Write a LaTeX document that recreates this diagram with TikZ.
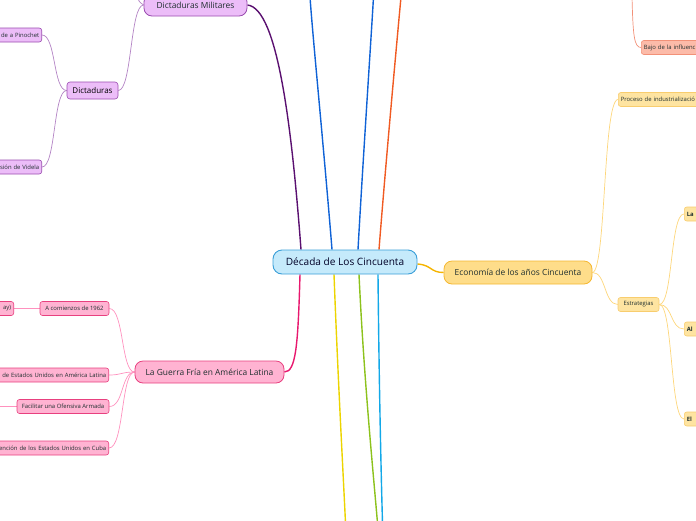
\documentclass[tikz,border=0pt]{standalone}
\usepackage{fontspec}
\setmainfont{Open Sans}
\usetikzlibrary{calc}
\pgfdeclarelayer{bg}
\pgfsetlayers{bg,main}
\definecolor{cfill}{HTML}{C5EAFB}\definecolor{cdraw}{HTML}{3A9FD8}
\definecolor{pfill}{HTML}{ECBDF8}\definecolor{pdraw}{HTML}{9A4CB0}\definecolor{pline}{HTML}{5A1070}\definecolor{psub}{HTML}{B383C4}
\definecolor{kfill}{HTML}{FFB3D2}\definecolor{kdraw}{HTML}{E8407F}\definecolor{kline}{HTML}{E8186E}\definecolor{ksub}{HTML}{FF91BE}
\definecolor{yfill}{HTML}{FEDD8A}\definecolor{ydraw}{HTML}{F5B730}\definecolor{yline}{HTML}{F5B400}\definecolor{ysub}{HTML}{FDD67A}
\definecolor{sfill}{HTML}{FCBBA9}\definecolor{sdraw}{HTML}{F29178}
\definecolor{blueline}{HTML}{0F62D6}\definecolor{orline}{HTML}{F05A22}
\definecolor{yeline}{HTML}{ECD400}\definecolor{grline}{HTML}{8CC21C}\definecolor{lbline}{HTML}{12A8E8}
\definecolor{txt}{HTML}{1F2F2F}
\tikzset{
  x=1pt,y=-1pt,
  basebox/.style={draw, rounded corners=4pt, text=txt, inner sep=2pt, line width=0.6pt},
  centralbox/.style={basebox, fill=cfill, draw=cdraw, rounded corners=9pt, line width=0.9pt, font=\fontsize{10.1}{12}\selectfont, text=black!85!blue},
  mainbox/.style={basebox, rounded corners=8pt, line width=0.8pt, font=\fontsize{8.4}{10}\selectfont},
  midbox/.style={basebox, rounded corners=3pt, font=\fontsize{8}{9}\selectfont, text=black},
  subbox/.style={basebox, rounded corners=2.5pt, font=\fontsize{5.9}{7}\selectfont, minimum height=14pt, inner sep=2.5pt},
  subbold/.style={font=\fontsize{5.9}{7}\selectfont\bfseries},
  purp/.style={fill=pfill, draw=pdraw},
  pink/.style={fill=kfill, draw=kdraw},
  yell/.style={fill=yfill, draw=ydraw},
  ysubc/.style={fill=yfill!80!white, draw=ydraw!70!white},
  salm/.style={fill=sfill, draw=sdraw},
  branch/.style={line width=1.4pt},
  twig/.style={line width=0.7pt},
}
\begin{document}
\begin{tikzpicture}
\useasboundingbox (0,0) rectangle (696,520);
% central
\node[centralbox, minimum width=144pt, minimum height=24pt] (c) at (345,262) {Década de Los Cincuenta};
% economy
\node[mainbox, yell, minimum width=148pt, minimum height=23pt] (eco) at (518,272.5) {Economía de los años Cincuenta};
\node[subbox, ysubc, anchor=west, text width=120pt, align=left] (proc) at (618,99.5) {Proceso de industrializació};
\node[subbox, ysubc, minimum width=41pt] (estr) at (638.5,304.5) {Estrategias};
\node[subbox, ysubc, subbold, anchor=west, text width=40pt, align=left] (la) at (684,214) {La};
\node[subbox, ysubc, subbold, anchor=west, text width=40pt, align=left] (al) at (684,329) {Al};
\node[subbox, ysubc, subbold, anchor=west, text width=40pt, align=left] (el) at (684,419) {El};
\node[subbox, salm, anchor=west, text width=80pt, align=left] (bajo) at (641,47.5) {Bajo de la influenc};
% dictaduras
\node[mainbox, purp, minimum width=103pt, minimum height=22pt] (dm) at (195.5,5) {Dictaduras Militares};
\node[midbox, purp, minimum width=51pt, minimum height=17pt] (dic) at (92.5,90.5) {Dictaduras};
\node[subbox, purp, anchor=east, text width=80pt, align=right] (pin) at (42,35) {de a Pinochet};
\node[subbox, purp, anchor=east, text width=80pt, align=right] (vid) at (42,167) {sión de Videla};
% guerra fria
\node[mainbox, pink, minimum width=149pt, minimum height=22pt] (gf) at (209.5,372) {La Guerra Fría en América Latina};
\node[subbox, pink, minimum width=69pt] (a62) at (74.5,308.5) {A comienzos de 1962};
\node[subbox, pink, anchor=east, text width=60pt, align=right] (ay) at (14,308.5) {ay)};
\node[subbox, pink, anchor=east, text width=140pt, align=right] (eu) at (109,375) {de Estados Unidos en América Latina};
\node[subbox, pink, minimum width=92pt] (fac) at (63,406.5) {Facilitar una Ofensiva Armada};
\node[subbox, pink, anchor=east, text width=140pt, align=right] (cub) at (109,448) {ención de los Estados Unidos en Cuba};
% free ends
\coordinate (b1) at (310,-3);
\coordinate (b2) at (373.5,-3);
\coordinate (o1) at (401,-3);
\coordinate (ye) at (345.5,523);
\coordinate (gr) at (377.5,523);
\coordinate (lb) at (382.5,523);
\coordinate (sal) at (632,-3);
\coordinate (dmup) at (137,-3);
\coordinate (facl) at (-5,406.5);
\begin{pgfonlayer}{bg}
\draw[branch, pline] ([xshift=-44pt]c.north) .. controls (292,130) and (278,8) .. (dm.east);
\draw[branch, blueline] ([xshift=-13pt]c.north) .. controls (324,150) and (313,40) .. (b1);
\draw[branch, blueline] ([xshift=13pt]c.north) .. controls (363,160) and (371,40) .. (b2);
\draw[branch, orline] ([xshift=34pt]c.north) .. controls (386,160) and (397,40) .. (o1);
\draw[branch, kline] ([xshift=-45pt]c.south) .. controls (298,345) and (296,372) .. (gf.east);
\draw[branch, yeline] ([xshift=-11pt]c.south) .. controls (338,380) and (343,470) .. (ye);
\draw[branch, grline] ([xshift=14pt]c.south) .. controls (364,380) and (373,470) .. (gr);
\draw[branch, lbline] ([xshift=33pt]c.south) .. controls (379,380) and (381,470) .. (lb);
\draw[branch, yline] ([yshift=-2pt]c.east) .. controls (432,265) and (430,272.5) .. (eco.west);
% economy twigs
\draw[twig, ysub] (eco.east) .. controls (606,272) and (603,99.5) .. (proc.west);
\draw[twig, ysub] (eco.east) .. controls (606,272) and (604,304.5) .. (estr.west);
\draw[twig, ysub] (estr.east) .. controls (673,304.5) and (670,214) .. (la.west);
\draw[twig, ysub] (estr.east) .. controls (673,304.5) and (670,329) .. (al.west);
\draw[twig, ysub] (estr.east) .. controls (673,304.5) and (670,419) .. (el.west);
\draw[twig, sdraw] (sal) .. controls (633,35) and (634,47.5) .. (bajo.west);
% dictaduras twigs
\draw[twig, psub] (dm.west) .. controls (130,5) and (132,90.5) .. (dic.east);
\draw[twig, psub] (dm.west) .. controls (140,3) and (138,0) .. (dmup);
\draw[twig, psub] (dic.west) .. controls (53,90.5) and (56,35) .. (pin.east);
\draw[twig, psub] (dic.west) .. controls (53,90.5) and (56,167) .. (vid.east);
% guerra twigs
\draw[twig, ksub] (gf.west) .. controls (121,372) and (124,308.5) .. (a62.east);
\draw[twig, ksub] (gf.west) .. controls (121,372) and (122,375) .. (eu.east);
\draw[twig, ksub] (gf.west) .. controls (121,372) and (124,406.5) .. (fac.east);
\draw[twig, ksub] (gf.west) .. controls (121,372) and (124,448) .. (cub.east);
\draw[twig, ksub] (a62.west) -- (ay.east);
\draw[twig, ksub] (fac.west) -- (facl);
\end{pgfonlayer}
\end{tikzpicture}
\end{document}
